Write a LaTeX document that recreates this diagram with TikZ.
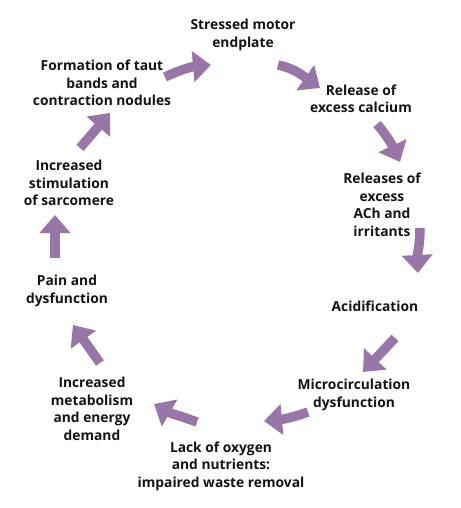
\documentclass[tikz,border=0pt]{standalone}
\usepackage{fontspec}
\setmainfont{Open Sans}
\usetikzlibrary{arrows.meta}
\definecolor{arrowc}{RGB}{152,118,168}
\definecolor{txt}{RGB}{20,20,20}
\begin{document}
\begin{tikzpicture}[x=1pt,y=1pt,
  lbl/.style={align=center,font=\fontsize{13.8}{17.5}\selectfont\bfseries,text=txt,inner sep=0pt},
  cyc/.style={draw=arrowc,line width=9.5pt,-{Triangle[length=18pt,width=30pt]}}]
\useasboundingbox (0,0) rectangle (460,-508);
\fill[white] (0,0) rectangle (460,-508);
% labels
\node[lbl] (smep) at (243,-35) {Stressed motor\\endplate};
\node[lbl] (rca) at (361,-99) {Release of\\excess calcium};
\node[lbl] (ach) at (382,-205) {Releases of\\excess\\ACh and\\irritants};
\node[lbl] (acid) at (375,-306) {Acidification};
\node[lbl] (micro) at (354,-395) {Microcirculation\\dysfunction};
\node[lbl] (lack) at (221,-466) {Lack of oxygen\\and nutrients:\\impaired waste removal};
\node[lbl] (meta) at (92,-409) {Increased\\metabolism\\and energy\\demand};
\node[lbl] (pain) at (67,-291) {Pain and\\dysfunction};
\node[lbl] (stim) at (69,-183) {Increased\\stimulation\\of sarcomere};
\node[lbl] (form) at (102,-83) {Formation of taut\\bands and\\contraction nodules};
% arrow end points
\coordinate (a1s) at (165,-77);  \coordinate (a1e) at (211,-65);
\coordinate (a2s) at (278,-65);  \coordinate (a2e) at (320,-88);
\coordinate (a3s) at (377,-124); \coordinate (a3e) at (400,-162);
\coordinate (a4s) at (420,-228); \coordinate (a4e) at (418,-273);
\coordinate (a5s) at (395,-338); \coordinate (a5e) at (363,-372);
\coordinate (a6s) at (308,-412); \coordinate (a6e) at (264,-421);
\coordinate (a7s) at (197,-422); \coordinate (a7e) at (154,-404);
\coordinate (a8s) at (100,-363); \coordinate (a8e) at (73,-325);
\coordinate (a9s) at (55,-258);  \coordinate (a9e) at (55,-215);
\coordinate (a10s) at (80,-148); \coordinate (a10e) at (110,-113);
% arrows
\draw[cyc] (a1s) to[out=25,in=185] (a1e);
\draw[cyc] (a2s) to[out=-12,in=145] (a2e);
\draw[cyc] (a3s) to[out=-50,in=115] (a3e);
\draw[cyc] (a4s) to[out=-90,in=93] (a4e);
\draw[cyc] (a5s) -- (a5e);
\draw[cyc] (a6s) to[out=200,in=5] (a6e);
\draw[cyc] (a7s) to[out=160,in=-30] (a7e);
\draw[cyc] (a8s) -- (a8e);
\draw[cyc] (a9s) -- (a9e);
\draw[cyc] (a10s) -- (a10e);
\end{tikzpicture}
\end{document}
